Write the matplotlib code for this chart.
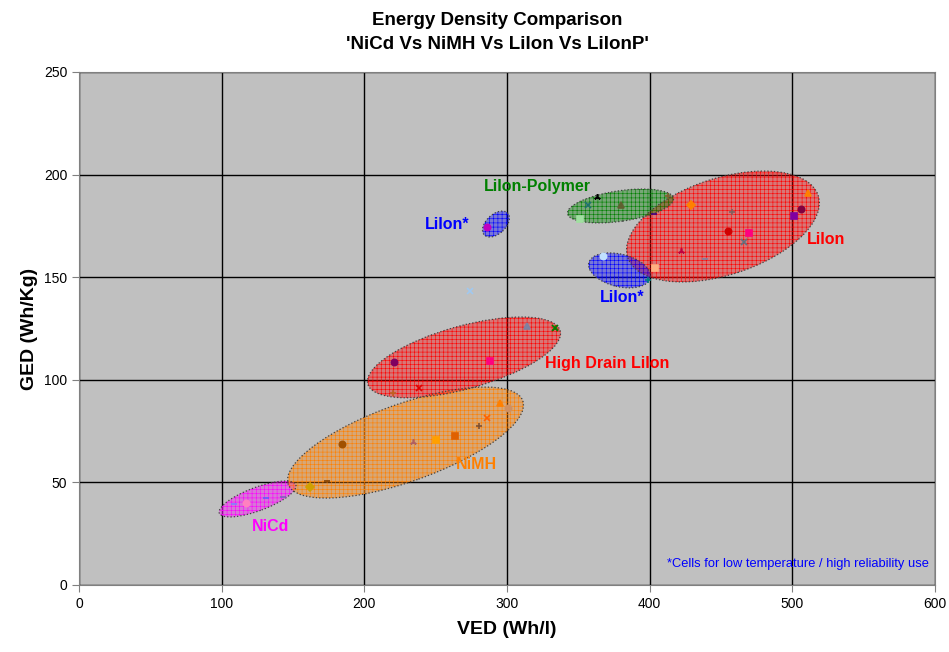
import matplotlib
matplotlib.use('Agg')
import matplotlib.pyplot as plt
from matplotlib.patches import Ellipse
from matplotlib.transforms import Affine2D

plt.rcParams['font.family'] = ['Liberation Sans', 'DejaVu Sans']
plt.rcParams['hatch.linewidth'] = 0.4

# --- data (VED Wh/l, GED Wh/kg) ---
liion_ved = [511, 506, 501, 429, 458, 455, 470, 466, 422, 439, 404, 399, 403, 413]
liion_ged = [191, 183, 180, 185, 182, 172.5, 171.7, 167.3, 162.8, 158.7, 154.3, 148.6, 181, 189.7]

poly_ved = [363, 357, 380, 351.5]
poly_ged = [189, 185.2, 185.2, 178.2]

star_ved = [367, 286, 274]
star_ged = [160.3, 174.5, 143.3]

hd_ved = [314, 333.6, 333.6, 220.7, 288, 238, 220]
hd_ged = [126.2, 125.4, 125.4, 108.5, 109.3, 95.9, 93.4]

nimh_ved = [294.8, 300.6, 286.2, 280.3, 263.9, 250.6, 233.8, 184.6, 173.6, 161.6]
nimh_ged = [88.8, 86.1, 81.2, 77.5, 72.6, 70.7, 69.8, 68.7, 50.8, 47.9]

nicd_ved = [109, 117.3, 131.3, 143]
nicd_ged = [39.3, 39.8, 42.3, 42.9]

# marker styles per point
liion_sty = [('^', '#ff8000'), ('o', '#800040'), ('s', '#8000a0'), ('D', '#ff8000'),
             ('+', '#806060'), ('o', '#d00000'), ('s', '#ff0080'), ('x', '#607080'),
             ((3, 2, 0), '#c00040'), ('_', '#8080a0'), ('s', '#ffb080'), ('+', '#008080'),
             ('_', '#400080'), ('+', '#806030')]
poly_sty = [((3, 2, 0), '#000000'), ('x', '#207070'), ('^', '#606030'), ('s', '#a0e0a0')]
star_sty = [('o', '#c0e0ff'), ('o', '#c000c0'), ('x', '#a0c8f0')]
hd_sty = [('^', '#8080a0'), ((3, 2, 0), '#a04000'), ('x', '#008000'), ('o', '#800060'),
          ('s', '#ff0080'), ('x', '#e00000'), ('+', '#c06020')]
nimh_sty = [('^', '#ff8000'), ('o', '#d09060'), ('x', '#ff6000'), ('+', '#805030'),
            ('s', '#e06000'), ('s', '#ffa000'), ((3, 2, 0), '#b06060'), ('o', '#a05000'),
            ('_', '#804000'), ('D', '#d0a000')]
nicd_sty = [('_', '#8080ff'), ('o', '#ff80c0'), ('_', '#6060ff'), ('_', '#8060c0')]

# group regions: centre (VED, GED), width, height (in VED units, screen aspect), angle
regions = ['NiCd', 'NiMH', 'HighDrain', 'LiIon', 'Polymer', 'Star1', 'Star2']
reg_cx = [125.2, 228.9, 269.9, 451.4, 379.6, 292.3, 378.9]
reg_cy = [41.9, 69.4, 110.9, 174.7, 184.7, 175.9, 153.3]
reg_w = [57.2, 174.5, 139.9, 140.4, 75, 22.4, 44.4]
reg_h = [16.4, 54.4, 44.1, 67.8, 21.4, 13.6, 22.8]
reg_ang = [20.4, 19.6, 15.5, 18, 8.2, 42.7, -13.7]
reg_col = ['#ff00ff', '#ff8000', '#ff0000', '#ff0000', '#008000', '#0000ff', '#0000ff']

fig = plt.figure(figsize=(9.49, 6.52), dpi=100)
ax = fig.add_axes([0.0832, 0.1028, 0.9020, 0.7868])
ax.set_facecolor('#c0c0c0')
ax.set_xlim(0, 600)
ax.set_ylim(0, 250)
ax.set_xticks(range(0, 601, 100))
ax.set_yticks(range(0, 251, 50))
ax.grid(True, color='black', lw=1.0)
ax.set_axisbelow(True)
for s in ax.spines.values():
    s.set_color('#808080')
ax.tick_params(direction='out', length=5, labelsize=10, color='#808080')

# aspect factor so ellipse angles look as on screen
bb = ax.get_position()
k = (bb.height * 6.52 / 250) / (bb.width * 9.49 / 600)
tr = Affine2D().scale(1, 1 / k) + ax.transData

for cx, cy, w, h, a, c in zip(reg_cx, reg_cy, reg_w, reg_h, reg_ang, reg_col):
    ax.add_patch(Ellipse((cx, cy * k), w, h, angle=a, transform=tr,
                         facecolor=c, alpha=0.38, lw=0, zorder=2))
    ax.add_patch(Ellipse((cx, cy * k), w, h, angle=a, transform=tr,
                         facecolor='none', edgecolor=c, hatch='++++', lw=0, zorder=3))
    ax.add_patch(Ellipse((cx, cy * k), w, h, angle=a, transform=tr,
                         facecolor='none', edgecolor='#404040', ls=':', lw=0.9, zorder=4))

for xs, ys, sty in [(liion_ved, liion_ged, liion_sty), (poly_ved, poly_ged, poly_sty),
                    (star_ved, star_ged, star_sty), (hd_ved, hd_ged, hd_sty),
                    (nimh_ved, nimh_ged, nimh_sty), (nicd_ved, nicd_ged, nicd_sty)]:
    for x, y, (m, c) in zip(xs, ys, sty):
        ax.plot(x, y, marker=m, color=c, ms=4.5, mew=1.2, ls='none', zorder=5)

lab = dict(fontsize=11.5, fontweight='bold', zorder=6)
ax.text(134, 28.3, 'NiCd', color='#ff00ff', ha='center', va='center', **lab)
ax.text(278.6, 58.8, 'NiMH', color='#ff8000', ha='center', va='center', **lab)
ax.text(327, 107.8, 'High Drain LiIon', color='#ff0000', ha='left', va='center', **lab)
ax.text(524, 168.6, 'LiIon', color='#ff0000', ha='center', va='center', **lab)
ax.text(381, 140, 'LiIon*', color='#0000ff', ha='center', va='center', **lab)
ax.text(258, 175.5, 'LiIon*', color='#0000ff', ha='center', va='center', **lab)
ax.text(321.5, 194, 'LiIon-Polymer', color='#008000', ha='center', va='center', **lab)
ax.text(596, 10, '*Cells for low temperature / high reliability use', color='#0000ff',
        ha='right', va='center', fontsize=9.3, zorder=6)

ax.set_xlabel('VED (Wh/l)', fontsize=14, fontweight='bold', labelpad=7)
ax.set_ylabel('GED (Wh/Kg)', fontsize=14, fontweight='bold', labelpad=4)
fig.text(0.524, 0.969, 'Energy Density Comparison', ha='center', va='center',
         fontsize=13.5, fontweight='bold')
fig.text(0.524, 0.931, "'NiCd Vs NiMH Vs LiIon Vs LiIonP'", ha='center', va='center',
         fontsize=13.5, fontweight='bold')

plt.savefig('out.png', dpi=100)
